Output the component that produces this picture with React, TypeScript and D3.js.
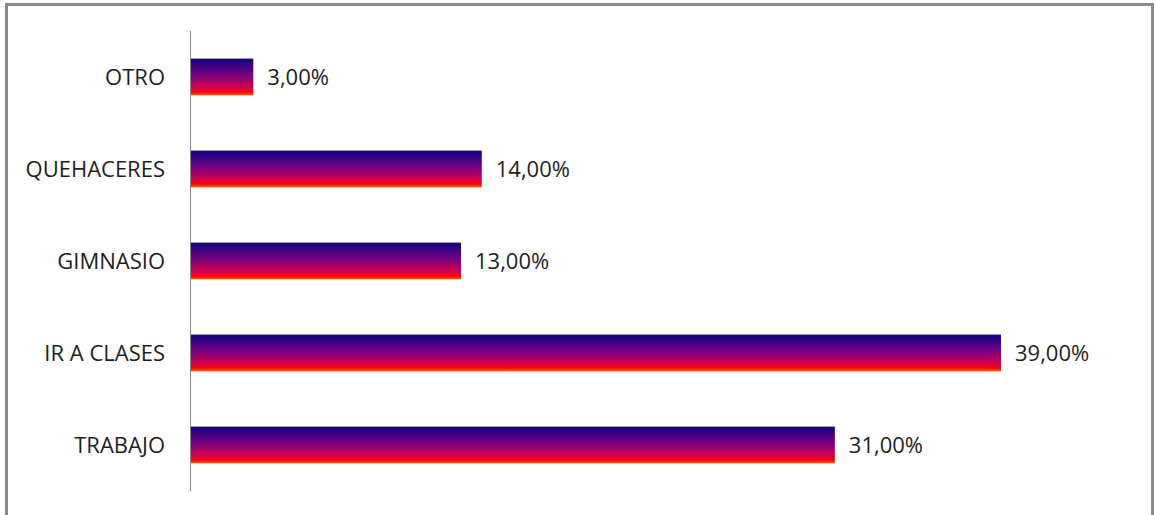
import React from "react";
import * as d3 from "d3";

const categories = ["OTRO", "QUEHACERES", "GIMNASIO", "IR A CLASES", "TRABAJO"];
const values = [3, 14, 13, 39, 31];
const valueLabels = ["3,00%", "14,00%", "13,00%", "39,00%", "31,00%"];

const W = 1155;
const H = 515;

export default function App() {
  const x = d3.scaleLinear().domain([0, 39]).range([191, 1001]);
  const y = d3.scaleBand<string>().domain(categories).range([31, 491]).paddingInner(0.6).paddingOuter(0.3);
  const font = "'Open Sans', 'Noto Sans', sans-serif";
  return (
    <svg width={W} height={H} style={{ position: "fixed", left: 0, top: 0, background: "#fff" }}>
      <defs>
        <linearGradient id="barGrad" x1="0" y1="0" x2="0" y2="1">
          <stop offset="0%" stopColor="#0c0480" />
          <stop offset="45%" stopColor="#780080" />
          <stop offset="80%" stopColor="#d8004a" />
          <stop offset="90%" stopColor="#f80010" />
          <stop offset="94%" stopColor="#ff2000" />
          <stop offset="100%" stopColor="#ff6a00" />
        </linearGradient>
      </defs>
      <rect x={6.5} y={4.5} width={1146} height={H + 10} fill="#fff" stroke="#8a8a8a" strokeWidth={3} />
      <line x1={190.5} x2={190.5} y1={31} y2={491} stroke="#888" strokeWidth={1} />
      {categories.map((c, i) => {
        const yy = y(c)!;
        const bw = y.bandwidth();
        return (
          <g key={c}>
            <rect x={x(0)} y={yy} width={x(values[i]) - x(0)} height={bw} fill="url(#barGrad)" />
            <text x={165} y={yy + bw / 2} dy="0.36em" textAnchor="end" fontFamily={font} fontSize={22} fill="#1e1e1e">
              {c}
            </text>
            <text x={x(values[i]) + 14} y={yy + bw / 2} dy="0.36em" textAnchor="start" fontFamily={font} fontSize={22} fill="#1e1e1e">
              {valueLabels[i]}
            </text>
          </g>
        );
      })}
    </svg>
  );
}
